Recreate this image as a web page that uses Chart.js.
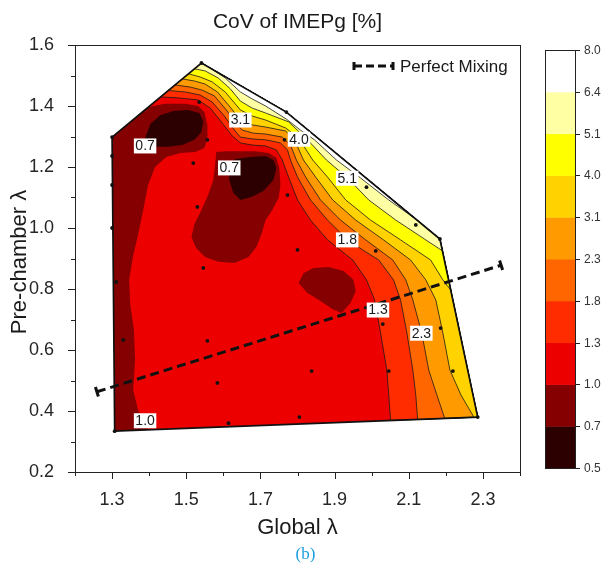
<!DOCTYPE html>
<html>
<head>
<meta charset="utf-8">
<script src="https://cdn.jsdelivr.net/npm/chart.js@4.4.1/dist/chart.umd.min.js"></script>
<style>
  html, body { margin: 0; padding: 0; background: #ffffff; }
  #wrap { width: 609px; height: 570px; }
</style>
</head>
<body>
<div id="wrap"><canvas id="c" width="609" height="570"></canvas></div>
<script>
// CoV of IMEPg [%] contour levels and the colour of each band between them
const levels = [0.5, 0.7, 1.0, 1.3, 1.8, 2.3, 3.1, 4.0, 5.1, 6.4, 8.0];
const bandColors = ['#2c0000', '#850000', '#ec0000', '#ff2c00', '#ff6600', '#ff9a00', '#ffd200', '#ffff00', '#ffffa4', '#ffffff'];

// Axis ticks (global λ, pre-chamber λ)
const xLabelled = [1.3, 1.5, 1.7, 1.9, 2.1, 2.3];
const yLabelled = [0.2, 0.4, 0.6, 0.8, 1.0, 1.2, 1.4, 1.6];

// Corners of the tested envelope [global λ, pre-chamber λ]
const envTopLeft = [1.300, 1.298];
const envTop = [1.541, 1.541];
const envShoulder = [1.770, 1.380];
const envRight = [2.184, 0.964];
const envBottomRight = [2.286, 0.380];
const envBottomLeft = [1.307, 0.334];

// Measured operating points
const testPoints = [
  [1.300, 1.298], [1.300, 1.236], [1.300, 1.141], [1.300, 1.000], [1.311, 0.823], [1.330, 0.633], [1.307, 0.334],
  [1.541, 1.541], [1.535, 1.413], [1.557, 1.289], [1.519, 1.213], [1.530, 1.069], [1.546, 0.869], [1.557, 0.630],
  [1.584, 0.492], [1.614, 0.360], [1.770, 1.380], [1.765, 1.289], [1.773, 1.108], [1.800, 0.928], [1.838, 0.531],
  [1.805, 0.380], [1.986, 1.134], [2.011, 0.925], [2.030, 0.685], [2.046, 0.531], [2.119, 1.010], [2.184, 0.964],
  [2.186, 0.672], [2.219, 0.531], [2.286, 0.380]
];

// Iso-lines of the high-CoV side, traced from the upper-left edge down to the lower/right edge
const iso13 = [[1.430,1.430],[1.484,1.426],[1.532,1.420],[1.565,1.393],[1.597,1.344],[1.624,1.302],[1.646,1.279],[1.678,1.272],[1.714,1.269],[1.743,1.256],[1.759,1.223],[1.776,1.167],[1.800,1.092],[1.835,1.026],[1.881,0.961],[1.949,0.895],[1.986,0.830],[2.008,0.764],[2.024,0.656],[2.041,0.534],[2.046,0.452],[2.051,0.369]];
const iso18 = [[1.451,1.451],[1.497,1.446],[1.538,1.436],[1.570,1.413],[1.603,1.367],[1.630,1.321],[1.646,1.298],[1.678,1.292],[1.714,1.289],[1.754,1.279],[1.773,1.256],[1.781,1.223],[1.800,1.167],[1.835,1.092],[1.881,1.026],[1.935,0.961],[1.976,0.928],[2.019,0.895],[2.059,0.830],[2.078,0.764],[2.095,0.656],[2.111,0.534],[2.119,0.452],[2.124,0.372]];
const iso23 = [[1.470,1.469],[1.511,1.462],[1.543,1.452],[1.576,1.433],[1.608,1.387],[1.635,1.341],[1.651,1.321],[1.681,1.311],[1.714,1.308],[1.759,1.298],[1.781,1.272],[1.797,1.223],[1.822,1.167],[1.862,1.092],[1.916,1.026],[1.984,0.961],[2.057,0.895],[2.092,0.830],[2.111,0.764],[2.135,0.656],[2.154,0.534],[2.176,0.452],[2.197,0.376]];
const iso31 = [[1.489,1.489],[1.522,1.482],[1.551,1.472],[1.584,1.446],[1.614,1.403],[1.646,1.354],[1.678,1.338],[1.714,1.331],[1.768,1.318],[1.792,1.289],[1.816,1.223],[1.849,1.167],[1.895,1.092],[1.957,1.026],[2.032,0.961],[2.105,0.895],[2.146,0.830],[2.173,0.764],[2.192,0.656],[2.211,0.534],[2.241,0.452],[2.276,0.379]];
const iso40 = [[1.505,1.506],[1.538,1.495],[1.570,1.479],[1.605,1.446],[1.646,1.387],[1.678,1.367],[1.714,1.354],[1.768,1.328],[1.803,1.295],[1.841,1.223],[1.881,1.167],[1.930,1.092],[1.997,1.026],[2.078,0.961],[2.159,0.895],[2.192,0.830],[2.214,0.795]];
const iso51 = [[1.522,1.522],[1.551,1.515],[1.586,1.492],[1.619,1.456],[1.646,1.416],[1.678,1.393],[1.714,1.377],[1.776,1.348],[1.827,1.289],[1.878,1.223],[1.935,1.164],[1.992,1.092],[2.065,1.026],[2.146,0.961],[2.191,0.925]];
const iso64 = [[1.570,1.520],[1.605,1.492],[1.646,1.446],[1.678,1.423],[1.714,1.400],[1.770,1.357],[1.808,1.321],[1.846,1.289],[1.905,1.223],[1.970,1.164],[2.046,1.092],[2.111,1.036]];

// Low-CoV pockets (below 1.0 and below 0.7)
const lowLeft = [[1.397,1.397],[1.443,1.407],[1.497,1.407],[1.532,1.400],[1.549,1.380],[1.557,1.338],[1.557,1.295],[1.549,1.262],[1.524,1.249],[1.484,1.246],[1.446,1.233],[1.416,1.200],[1.397,1.141],[1.384,1.059],[1.370,0.977],[1.357,0.911],[1.346,0.830],[1.349,0.748],[1.359,0.666],[1.362,0.567],[1.357,0.469],[1.370,0.403],[1.397,0.338]];
const coreLeft = [[1.389,1.295],[1.403,1.341],[1.430,1.370],[1.465,1.384],[1.505,1.387],[1.535,1.377],[1.546,1.351],[1.541,1.315],[1.522,1.289],[1.489,1.272],[1.451,1.266],[1.416,1.266],[1.395,1.275]];
const lowMid = [[1.581,1.249],[1.608,1.252],[1.646,1.252],[1.686,1.252],[1.722,1.246],[1.743,1.230],[1.751,1.197],[1.754,1.141],[1.749,1.098],[1.732,1.059],[1.714,1.026],[1.703,0.980],[1.689,0.938],[1.668,0.905],[1.630,0.885],[1.586,0.889],[1.551,0.905],[1.527,0.934],[1.514,0.970],[1.522,1.013],[1.541,1.059],[1.559,1.108],[1.573,1.157],[1.578,1.207]];
const coreMid = [[1.614,1.203],[1.632,1.226],[1.673,1.233],[1.714,1.236],[1.735,1.223],[1.743,1.197],[1.735,1.157],[1.708,1.121],[1.676,1.102],[1.646,1.092],[1.627,1.115],[1.616,1.157]];
const lowRight = [[1.803,0.820],[1.816,0.852],[1.843,0.869],[1.884,0.872],[1.924,0.859],[1.951,0.830],[1.957,0.793],[1.943,0.754],[1.919,0.721],[1.895,0.734],[1.862,0.761],[1.827,0.787]];

// Iso-line value tags and where they sit
const isoTags = [
  { text: '0.7', x: 1.389, y: 1.269 },
  { text: '0.7', x: 1.616, y: 1.197 },
  { text: '3.1', x: 1.646, y: 1.354 },
  { text: '4.0', x: 1.804, y: 1.291 },
  { text: '5.1', x: 1.934, y: 1.163 },
  { text: '1.8', x: 1.934, y: 0.961 },
  { text: '1.3', x: 2.017, y: 0.731 },
  { text: '2.3', x: 2.134, y: 0.655 },
  { text: '1.0', x: 1.389, y: 0.368 }
];

// Perfect-mixing reference line
const mixingLine = [[1.259, 0.463], [2.349, 0.878]];

const FONT = '"Liberation Sans", Arial, sans-serif';
const pts = arr => arr.map(p => ({ x: p[0], y: p[1] }));

function region(points, color, edge) {
  return {
    data: pts(points),
    showLine: true,
    fill: 'shape',
    backgroundColor: color,
    borderColor: edge ? '#1a1a1a' : 'rgba(0,0,0,0)',
    borderWidth: edge ? 0.8 : 0,
    pointRadius: 0,
    pointHoverRadius: 0,
    pointHitRadius: 0
  };
}

const tailBottom = [envBottomRight, envRight, envShoulder, envTop];
const tailRight = [envRight, envShoulder, envTop];

// Bottom-to-top painting order
const layers = [
  region([envTopLeft, envTop, envShoulder, envRight, envBottomRight, envBottomLeft], bandColors[2], false),
  region(lowLeft.concat([envBottomLeft, envTopLeft]), bandColors[1], false),
  region(coreLeft, bandColors[0], false),
  region(lowMid, bandColors[1], false),
  region(coreMid, bandColors[0], false),
  region(lowRight, bandColors[1], false),
  region(iso13.concat(tailBottom), bandColors[3], true),
  region(iso18.concat(tailBottom), bandColors[4], true),
  region(iso23.concat(tailBottom), bandColors[5], true),
  region(iso31.concat(tailBottom), bandColors[6], true),
  region(iso40.concat(tailRight), bandColors[7], true),
  region(iso51.concat(tailRight), bandColors[8], true),
  region(iso64.concat([envShoulder]), bandColors[9], true),
  {
    data: pts([envTopLeft, envTop, envShoulder, envRight, envBottomRight, envBottomLeft, envTopLeft]),
    showLine: true, fill: false, borderColor: '#111', borderWidth: 1.7,
    pointRadius: 0, pointHitRadius: 0
  },
  {
    data: pts(testPoints), showLine: false,
    pointRadius: 1.9, pointBackgroundColor: '#111', pointBorderWidth: 0
  },
  {
    data: pts(mixingLine), showLine: true, fill: false,
    borderColor: '#111', borderWidth: 3, borderDash: [9, 5],
    pointStyle: 'line', pointRadius: 5, pointRotation: 72.6,
    pointBorderColor: '#111', pointBorderWidth: 3
  }
];
layers.forEach((d, i) => { d.order = layers.length - i; });

const decor = {
  id: 'decor',
  afterDatasetsDraw(chart) {
    const { ctx, scales: { x, y } } = chart;
    ctx.save();
    ctx.font = '14px ' + FONT;
    ctx.textAlign = 'center';
    ctx.textBaseline = 'middle';
    isoTags.forEach(t => {
      const px = x.getPixelForValue(t.x), py = y.getPixelForValue(t.y);
      const w = ctx.measureText(t.text).width + 3, h = 15;
      ctx.fillStyle = '#ffffff';
      ctx.fillRect(px - w / 2, py - h / 2, w, h);
      ctx.fillStyle = '#1a1a1a';
      ctx.fillText(t.text, px, py + 0.5);
    });
    ctx.restore();
  },
  afterDraw(chart) {
    const { ctx, chartArea: a, scales: { x, y } } = chart;
    ctx.save();
    // plot frame
    ctx.strokeStyle = '#222';
    ctx.lineWidth = 1;
    ctx.strokeRect(a.left + 0.5, a.top + 0.5, a.width, a.height);

    // outward tick marks, long where labelled
    ctx.beginPath();
    for (let k = 12; k <= 24; k++) {
      const v = k / 10;
      const px = Math.round(x.getPixelForValue(v)) + 0.5;
      const len = xLabelled.some(l => Math.abs(l - v) < 1e-6) ? 7 : 4;
      ctx.moveTo(px, a.bottom);
      ctx.lineTo(px, a.bottom + len);
    }
    for (let k = 2; k <= 16; k++) {
      const v = k / 10;
      const py = Math.round(y.getPixelForValue(v)) + 0.5;
      const len = yLabelled.some(l => Math.abs(l - v) < 1e-6) ? 7 : 4;
      ctx.moveTo(a.left, py);
      ctx.lineTo(a.left - len, py);
    }
    ctx.stroke();

    // titles
    ctx.fillStyle = '#1a1a1a';
    ctx.textAlign = 'center';
    ctx.textBaseline = 'middle';
    const cx = (a.left + a.right) / 2;
    ctx.font = '21px ' + FONT;
    ctx.fillText('CoV of IMEPg [%]', cx, 22);
    ctx.font = '22px ' + FONT;
    ctx.fillText('Global λ', cx, 528);
    ctx.save();
    ctx.translate(20, 262);
    ctx.rotate(-Math.PI / 2);
    ctx.fillText('Pre-chamber λ', 0, 0);
    ctx.restore();
    ctx.fillStyle = '#1b9de0';
    ctx.font = '17px "Liberation Serif", "Times New Roman", serif';
    ctx.fillText('(b)', cx + 8, 555);

    // legend for the mixing line
    const ly = 66, lx0 = 354, lx1 = 393;
    ctx.strokeStyle = '#111';
    ctx.lineWidth = 3;
    ctx.setLineDash([8, 4]);
    ctx.beginPath();
    ctx.moveTo(lx0, ly); ctx.lineTo(lx1, ly);
    ctx.stroke();
    ctx.setLineDash([]);
    ctx.beginPath();
    ctx.moveTo(lx0, ly - 4); ctx.lineTo(lx0, ly + 4);
    ctx.moveTo(lx1, ly - 4); ctx.lineTo(lx1, ly + 4);
    ctx.stroke();
    ctx.fillStyle = '#1a1a1a';
    ctx.textAlign = 'left';
    ctx.font = '17px ' + FONT;
    ctx.fillText('Perfect Mixing', 400, ly + 1);

    // colour scale
    const bx0 = 545, bx1 = 575, bTop = 50, bBot = 468;
    const bh = (bBot - bTop) / bandColors.length;
    bandColors.forEach((c, i) => {
      ctx.fillStyle = c;
      ctx.fillRect(bx0, bBot - (i + 1) * bh, bx1 - bx0, bh + 0.5);
    });
    ctx.strokeStyle = '#222';
    ctx.lineWidth = 1;
    ctx.strokeRect(bx0 + 0.5, bTop + 0.5, bx1 - bx0, bBot - bTop);
    ctx.font = '12px ' + FONT;
    ctx.fillStyle = '#333';
    ctx.textBaseline = 'middle';
    ctx.beginPath();
    levels.forEach((lv, i) => {
      const py = Math.round(bBot - i * bh) + 0.5;
      ctx.moveTo(bx1, py); ctx.lineTo(bx1 + 5, py);
      ctx.fillText(lv.toFixed(1), bx1 + 9, py);
    });
    ctx.stroke();
    ctx.restore();
  }
};

new Chart(document.getElementById('c'), {
  type: 'scatter',
  data: { datasets: layers },
  options: {
    responsive: false,
    animation: false,
    events: [],
    layout: { padding: { top: 45, right: 89, left: 0, bottom: 0 } },
    plugins: { legend: { display: false }, tooltip: { enabled: false }, title: { display: false } },
    scales: {
      x: {
        type: 'linear', min: 1.2, max: 2.4,
        grid: { display: false }, border: { display: false },
        ticks: {
          stepSize: 0.1, autoSkip: false, maxRotation: 0, padding: 9,
          color: '#262626', font: { family: FONT, size: 18 },
          callback: v => xLabelled.some(l => Math.abs(l - v) < 1e-6) ? v.toFixed(1) : ''
        },
        afterFit: s => { s.height = 98; }
      },
      y: {
        type: 'linear', min: 0.2, max: 1.6,
        grid: { display: false }, border: { display: false },
        ticks: {
          stepSize: 0.1, autoSkip: false, padding: 13,
          color: '#262626', font: { family: FONT, size: 18 },
          callback: v => yLabelled.some(l => Math.abs(l - v) < 1e-6) ? v.toFixed(1) : ''
        },
        afterFit: s => { s.width = 75; }
      }
    }
  },
  plugins: [decor]
});
</script>
</body>
</html>
